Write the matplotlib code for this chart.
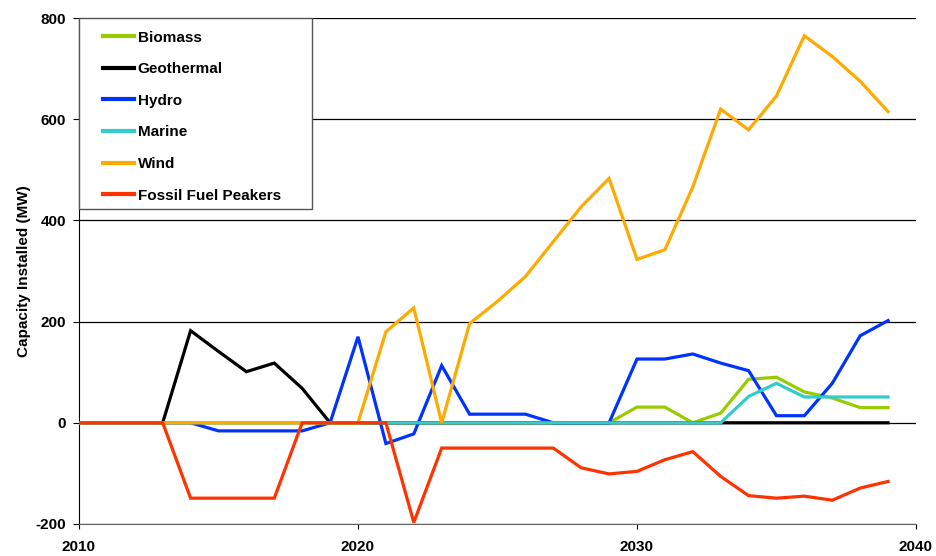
import numpy as np
import matplotlib
matplotlib.use("Agg")
import matplotlib.pyplot as plt
from matplotlib.patches import Rectangle

plt.rcParams['font.family'] = ['Liberation Sans', 'DejaVu Sans']
plt.rcParams['font.weight'] = 'bold'
plt.rcParams['axes.unicode_minus'] = False

years = list(range(2010, 2040))

biomass = [0, 0, 0, 0, 0, 0, 0, 0, 0, 0,
           0, 0, 0, 0, 0, 0, 0, 0, 0, 0,
           31, 31, 0, 19, 86, 90, 61, 49, 30, 30]
geothermal = [0, 0, 0, 0, 182, 141, 101, 118, 68, 0,
              0, 0, 0, 0, 0, 0, 0, 0, 0, 0,
              0, 0, 0, 0, 0, 0, 0, 0, 0, 0]
hydro = [0, 0, 0, 0, 0, -16, -16, -16, -16, 0,
         170, -41, -22, 113, 17, 17, 17, 0, 0, 0,
         126, 126, 136, 118, 103, 14, 14, 78, 172, 202]
marine = [0, 0, 0, 0, 0, 0, 0, 0, 0, 0,
          0, 0, 0, 0, 0, 0, 0, 0, 0, 0,
          0, 0, 0, 0, 52, 78, 51, 51, 51, 51]
wind = [0, 0, 0, 0, 0, 0, 0, 0, 0, 0,
        0, 180, 227, 0, 196, 240, 289, 358, 427, 483,
        323, 342, 466, 620, 579, 646, 765, 724, 675, 615]
fossil = [0, 0, 0, 0, -149, -149, -149, -149, 0, 0,
          0, 0, -197, -50, -50, -50, -50, -50, -89, -101,
          -96, -73, -57, -106, -144, -149, -145, -153, -129, -116]

series = [
    ("Biomass", biomass, "#99cc00"),
    ("Geothermal", geothermal, "#000000"),
    ("Hydro", hydro, "#0033ff"),
    ("Marine", marine, "#33cccc"),
    ("Wind", wind, "#ffaa00"),
    ("Fossil Fuel Peakers", fossil, "#ff3300"),
]

fig = plt.figure(figsize=(9.36, 5.56), dpi=100)
ax = fig.add_axes([0.0844, 0.0576, 0.8942, 0.91])

for y in [-200, 0, 200, 400, 600, 800]:
    ax.axhline(y, color="black", lw=0.9, zorder=1)

for name, vals, col in series:
    ax.plot(years, vals, color=col, lw=2.3, label=name, zorder=3,
            solid_joinstyle="miter")

ax.set_xlim(2010, 2040)
ax.set_ylim(-200, 800)
ax.set_xticks([2010, 2020, 2030, 2040])
ax.set_yticks([-200, 0, 200, 400, 600, 800])
ax.tick_params(axis="x", direction="out", length=3.6, pad=8, labelsize=11)
ax.tick_params(axis="y", direction="out", length=4.3, pad=5, labelsize=11)
ax.spines["top"].set_visible(False)
ax.spines["right"].set_visible(False)
ax.spines["bottom"].set_color("#666666")
ax.spines["left"].set_color("black")
ax.set_ylabel("Capacity Installed (MW)", fontsize=11, fontweight="bold", labelpad=3)

# legend frame
ax.add_patch(Rectangle((0, 1 - 0.377), 0.278, 0.377, transform=ax.transAxes,
                       facecolor="white", edgecolor="#555555", lw=1.0,
                       zorder=5, clip_on=False))
leg = ax.legend(loc="upper left", bbox_to_anchor=(0.029, 0.975), frameon=False,
                fontsize=11, handlelength=2.0, handletextpad=0.25,
                labelspacing=1.15, borderaxespad=0, borderpad=0)
leg.set_zorder(6)
for line in leg.get_lines():
    line.set_linewidth(3)

fig.savefig("out.png", dpi=100)
